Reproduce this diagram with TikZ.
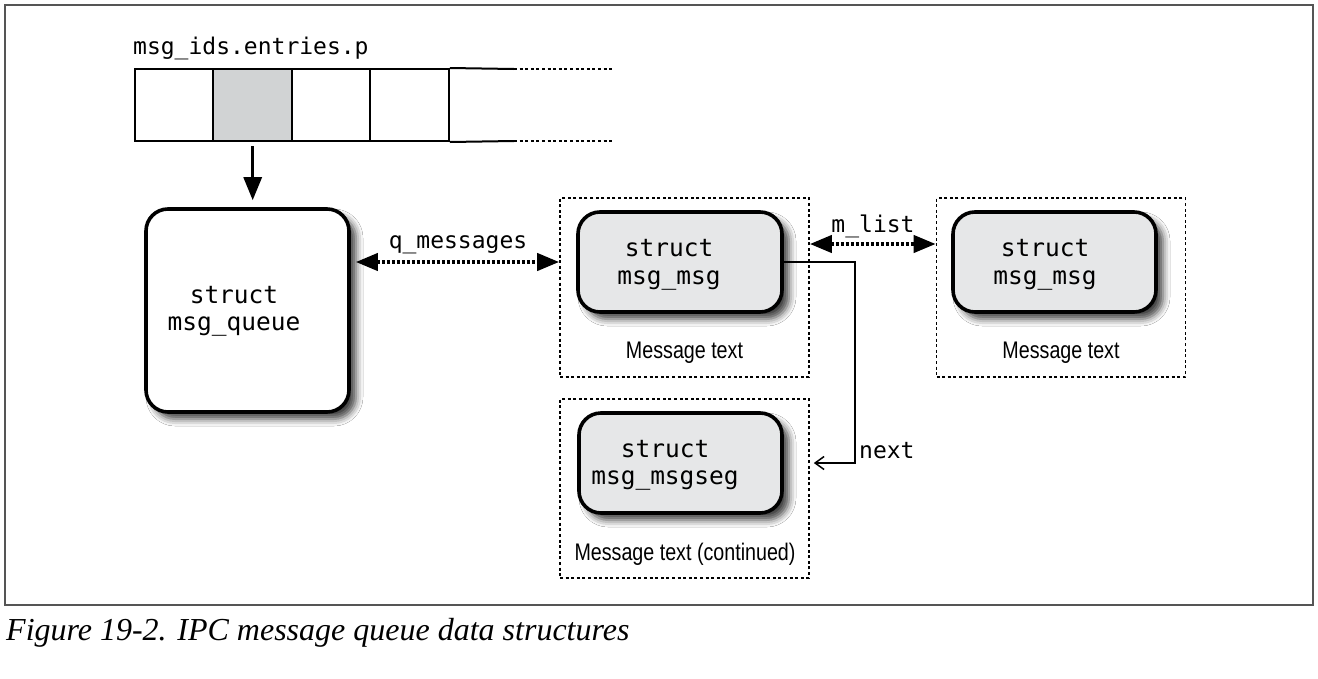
\documentclass[tikz,border=0pt]{standalone}
\usepackage{fontspec}
\setmonofont{DejaVu Sans Mono}
\newfontfamily\condsans[FakeStretch=0.82]{Liberation Sans}
\newfontfamily\capfont{Liberation Serif}
\usetikzlibrary{arrows.meta,shadows.blur,calc}
\definecolor{cellgray}{HTML}{D1D3D4}
\definecolor{boxgray}{HTML}{E6E7E8}
\definecolor{framegray}{HTML}{555555}
\begin{document}
\begin{tikzpicture}[x=1pt,y=-1pt,
  structbox/.style={draw=black, line width=3.6pt, rounded corners=22pt, inner sep=0pt,
    blur shadow={shadow xshift=7pt, shadow yshift=-7pt, shadow blur radius=7pt, shadow opacity=75}},
  container/.style={draw=black, line width=1.6pt, dash pattern=on 3pt off 2.6pt, inner sep=0pt,
    minimum width=249pt, minimum height=179pt},
  cell/.style={draw=black, line width=2pt, inner sep=0pt, minimum width=78.6pt, minimum height=72pt},
  monolbl/.style={font=\fontsize{23}{27}\ttfamily, inner sep=0pt, anchor=base},
  monobox/.style={font=\fontsize{24.5}{28}\ttfamily, inner sep=0pt, anchor=base},
  msgtxt/.style={font=\fontsize{24}{28}\condsans, inner sep=0pt, anchor=base},
  dblarrow/.style={line width=4pt, dash pattern=on 3pt off 2pt,
    {Triangle[length=22pt,width=17pt]}-{Triangle[length=22pt,width=17pt]}},
  downarrow/.style={line width=3pt, -{Triangle[length=23pt,width=18pt]}},
  nextarrow/.style={line width=1.5pt, -{Straight Barb[length=9pt,width=13pt,line width=1.5pt]}}
]
\useasboundingbox (0,0) rectangle (1318,678);
\fill[white] (0,0) rectangle (1318,678);
% frame
\draw[framegray, line width=1.6pt] (5,5) rectangle (1313,605);

% array
\node[monolbl, anchor=base west] (arrlbl) at (133,54) {msg\_ids.entries.p};
\node[cell] (cell1) at (174.1,105) {};
\node[cell, fill=cellgray] (cell2) at (252.7,105) {};
\node[cell] (cell3) at (331.0,105) {};
\node[cell] (cell4) at (409.5,105) {};
\coordinate (tend) at (514,69);
\coordinate (bend) at (514,141);
\coordinate (tdot) at (614,69);
\coordinate (bdot) at (614,141);
\draw[line width=2pt] (cell4.north east) -- (tend);
\draw[line width=2pt] (cell4.south east) -- (bend);
\draw[line width=1.6pt, dash pattern=on 3pt off 2.6pt] (tend) -- (tdot);
\draw[line width=1.6pt, dash pattern=on 3pt off 2.6pt] (bend) -- (bdot);

% queue box
\node[structbox, fill=white, minimum width=203pt, minimum height=203pt] (queue) at (247.5,310.5) {};
\node[monobox] (q1) at (234,303) {struct};
\node[monobox] (q2) at (234,330) {msg\_queue};

% containers
\node[container] (c1) at (684.5,287.5) {};
\node[container] (c2) at (1061,287.5) {};
\node[container] (c3) at (684.5,488.5) {};

% message boxes
\node[structbox, fill=boxgray, minimum width=204pt, minimum height=100pt] (msg1) at (680,262) {};
\node[monobox] (m1a) at (669,256) {struct};
\node[monobox] (m1b) at (669,284) {msg\_msg};
\node[structbox, fill=boxgray, minimum width=203pt, minimum height=100pt] (msg2) at (1054.5,262) {};
\node[monobox] (m2a) at (1045,256) {struct};
\node[monobox] (m2b) at (1045,284) {msg\_msg};
\node[structbox, fill=boxgray, minimum width=203pt, minimum height=100pt] (seg) at (680.5,463) {};
\node[monobox] (s1) at (665,457) {struct};
\node[monobox] (s2) at (665,484) {msg\_msgseg};

\node[msgtxt] (t1) at (684.5,358) {Message text};
\node[msgtxt] (t2) at (1061,358) {Message text};
\node[msgtxt] (t3) at (685,560) {Message text (continued)};

% connectors
\draw[downarrow] ([yshift=-4pt]cell2.south) -- ([yshift=7pt]cell2.south |- queue.north);
\draw[dblarrow] ([xshift=5pt]queue.east |- msg1.center) -- (c1.west |- msg1.center);
\node[monolbl] (qlbl) at (458,248) {q\_messages};
\draw[dblarrow] ([yshift=18pt]c1.east |- msg1.center) -- ([yshift=18pt]c2.west |- msg1.center);
\node[monolbl] (mlbl) at (873,232) {m\_list};
\coordinate (bend1) at (855,262);
\draw[nextarrow] (msg1.east) -- (bend1) -- (bend1 |- seg.center) -- ([xshift=4pt]c3.east |- seg.center);
\node[monolbl, anchor=base west] (nlbl) at (859,458) {next};

% caption
\node[inner sep=0pt, anchor=base west, font=\fontsize{32}{37}\capfont\itshape] (cap) at (6,640)
  {Figure 19-2. IPC message queue data structures};
\end{tikzpicture}
\end{document}
